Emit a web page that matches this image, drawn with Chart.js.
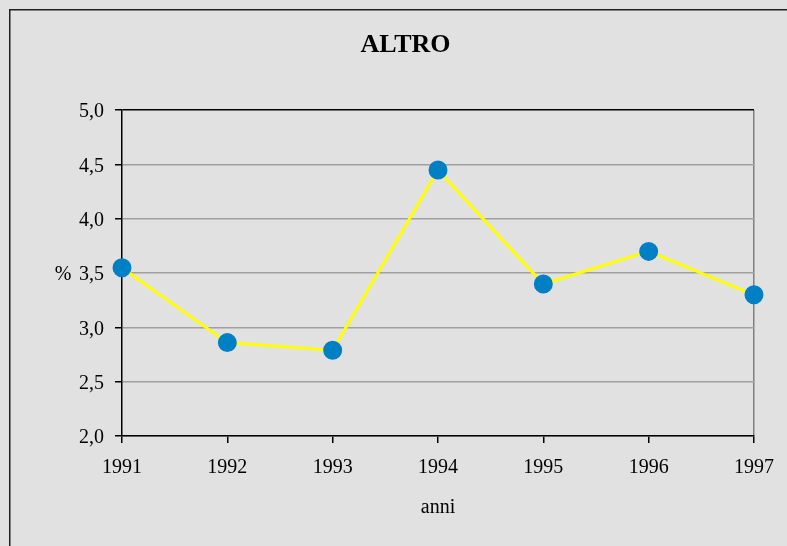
<!DOCTYPE html>
<html>
<head>
<meta charset="utf-8">
<script src="https://cdn.jsdelivr.net/npm/chart.js@4/dist/chart.umd.min.js"></script>
<style>
  html, body { margin: 0; padding: 0; background: #e1e1e1; }
  #wrap { width: 787px; height: 546px; }
</style>
</head>
<body>
<div id="wrap"><canvas id="grafico"></canvas></div>
<script>
const anni = ['1991', '1992', '1993', '1994', '1995', '1996', '1997'];
const valori = [3.55, 2.86, 2.79, 4.45, 3.40, 3.70, 3.30];
const tickY = [2.0, 2.5, 3.0, 3.5, 4.0, 4.5, 5.0];

// sfondo grigio, bordo e simbolo % accanto all'asse
const sfondo = {
    id: 'sfondo',
    beforeDraw(chart) {
        const ctx = chart.ctx;
        ctx.save();
        ctx.fillStyle = '#e1e1e1';
        ctx.fillRect(0, 0, chart.width, chart.height);
        ctx.strokeStyle = '#202020';
        ctx.lineWidth = 1.5;
        ctx.strokeRect(9.75, 9.75, chart.width + 20, chart.height + 20);
        ctx.restore();
    },
    afterDraw(chart) {
        const ctx = chart.ctx;
        const a = chart.chartArea;
        ctx.save();
        ctx.fillStyle = '#000';
        ctx.font = '20px "Liberation Serif"';
        ctx.textAlign = 'center';
        ctx.textBaseline = 'middle';
        ctx.fillText('%', a.left - 59, (a.top + a.bottom) / 2 + 2);
        ctx.restore();
    }
};

const ctx = document.getElementById('grafico').getContext('2d');
new Chart(ctx, {
    type: 'line',
    data: {
        labels: anni,
        datasets: [{
            data: valori,
            borderColor: '#ffff00',
            borderWidth: 3,
            pointBackgroundColor: '#0080c4',
            pointBorderColor: '#0080c4',
            pointRadius: 8,
            pointHoverRadius: 8,
            tension: 0
        }]
    },
    options: {
        responsive: true,
        maintainAspectRatio: false,
        animation: false,
        layout: { padding: { left: 28, right: 4, top: 0, bottom: 0 } },
        plugins: {
            legend: { display: false },
            tooltip: { enabled: false },
            title: {
                display: true,
                text: 'ALTRO',
                color: '#000',
                font: { family: 'Liberation Serif', size: 26, weight: 'bold' },
                padding: { top: 30, bottom: 49 }
            }
        },
        scales: {
            x: {
                offset: false,
                grid: {
                    drawOnChartArea: true,
                    color: c => c.index === anni.length - 1 ? '#808080' : 'rgba(0,0,0,0)',
                    tickColor: '#000',
                    tickLength: 7,
                    lineWidth: 1.5
                },
                border: { color: '#000', width: 1.5 },
                ticks: {
                    color: '#000',
                    padding: 13,
                    maxRotation: 0,
                    font: { family: 'Liberation Serif', size: 20 }
                },
                title: {
                    display: true,
                    text: 'anni',
                    color: '#000',
                    font: { family: 'Liberation Serif', size: 20 },
                    padding: { top: 0, bottom: 26 }
                },
                afterFit(scale) { scale.height = 110; }
            },
            y: {
                min: 2,
                max: 5,
                afterBuildTicks(scale) { scale.ticks = tickY.map(v => ({ value: v })); },
                grid: {
                    color: c => c.tick && c.tick.value === 5 ? '#000' : '#a0a0a0',
                    tickColor: '#000',
                    tickLength: 7,
                    lineWidth: 1.5
                },
                border: { color: '#000', width: 1.5 },
                ticks: {
                    color: '#000',
                    padding: 11,
                    labelOffset: 2,
                    font: { family: 'Liberation Serif', size: 20 },
                    callback: v => v.toFixed(1).replace('.', ',')
                },
                afterFit(scale) { scale.width = 94; }
            },
            destra: {
                position: 'right',
                display: true,
                grid: { display: false },
                border: { display: false },
                ticks: { display: false },
                afterFit(scale) { scale.width = 28; }
            }
        }
    },
    plugins: [sfondo]
});
</script>
</body>
</html>
